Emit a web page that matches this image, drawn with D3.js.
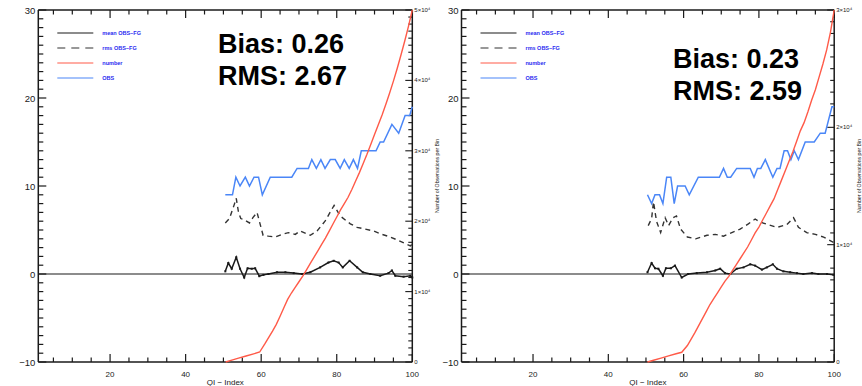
<!DOCTYPE html>
<html><head><meta charset="utf-8">
<script src="https://cdn.jsdelivr.net/npm/d3@7"></script>
<style>body{margin:0;background:#fff}</style>
</head><body><svg id="c" width="862" height="386"></svg>
<script>
// ---------- data ----------
const xTicks = [20, 40, 60, 80, 100];
const yTicks = [-10, 0, 10, 20, 30];
const legendLabels = ["mean OBS\u2212FG", "rms OBS\u2212FG", "number", "OBS"];
const xLabel = "QI  \u2212  Index";
const rightAxisTitle = "Number of Observations per Bin";

// left panel
const statsL = ["Bias: 0.26", "RMS: 2.67"];
const countTicksL = [0, 10000, 20000, 30000, 40000, 50000];
const countLabelsL = ["0", "1\u00d710\u2074", "2\u00d710\u2074", "3\u00d710\u2074", "4\u00d710\u2074", "5\u00d710\u2074"];
const obsL_x = [50.5,52.4,53.3,54.4,55.8,56.9,58.1,59.3,60.3,62.4,68.1,69.5,72.5,73.4,74.6,75.8,76.9,78.3,79.6,80.9,82.0,83.3,84.4,85.5,86.5,90.4,91.5,92.4,94.6,96.4,98.1,99.3,100];
const obsL_y = [9,9,11,10,11,10,11,11,9,11,11,12,12,13,12,13,12,13,13,12,13,12,13,12,14,14,15,15,17,16,18,18,19];
const rmsL_x = [50.5,51.6,52.8,53.4,54.0,54.6,55.3,56.9,57.8,58.9,60.5,61.9,63.7,65.5,67.2,69.0,70.3,73.0,74.8,76.9,79.3,80.9,83.6,85.4,87.5,89.7,92.0,94.2,96.4,99.5,100];
const rmsL_y = [5.8,6.3,7.8,8.6,7.0,6.3,6.2,5.8,6.4,7.0,4.4,4.3,4.2,4.5,4.7,4.5,4.9,4.4,4.9,6.0,7.8,6.6,5.7,5.3,5.1,4.9,4.5,4.2,3.8,3.2,3.4];
const meanL_x = [50.5,51.3,52.2,53.4,54.4,55.5,56.4,57.5,58.4,59.5,60.6,61.9,64.2,66.4,68.6,70.8,73.0,75.6,77.8,79.2,80.5,81.6,83.4,85.4,86.9,88.9,91.5,93.7,94.6,95.5,97.7,99.5,100];
const meanL_y = [0.3,1.25,0.6,1.9,0.6,-0.4,0.65,0.6,0.65,-0.25,-0.1,0,0.2,0.2,0.1,0,0.2,0.75,1.3,1.5,1.3,0.75,1.5,0.75,0.2,0,-0.2,0.1,0.4,-0.2,-0.3,-0.2,-0.4];
const numL_x = [50.6,52,54,56,58,59.6,61,62,63,64,65,66,67,68,69,70,71,72,73,74,75,76,77,78,79,80,81,82,83,84,85,86,87,88,89,90,91,92,93,94,95,96,97,98,99,100];
const numL_y = [0,230,540,850,1160,1420,2600,3500,4400,5350,6500,7700,8900,9800,10600,11400,12200,13100,14000,14900,15800,16700,17600,18600,19600,20600,21600,22500,23400,24500,25700,26900,28200,29500,30900,32300,33700,35100,36600,38200,39900,41700,43600,45600,47700,50000];

// right panel
const statsR = ["Bias: 0.23", "RMS: 2.59"];
const countTicksR = [0, 10000, 20000, 30000];
const countLabelsR = ["0", "1\u00d710\u2074", "2\u00d710\u2074", "3\u00d710\u2074"];
const obsR_x = [50.4,51.5,52.4,53.6,54.5,55.5,56.6,57.5,58.4,60.4,61.5,63.9,69.5,70.6,71.6,72.5,74.1,77.7,78.7,79.6,80.5,81.7,83.7,84.8,85.6,86.7,87.6,88.5,89.4,90.5,92.3,94.7,96.3,97.6,98.2,99.4,100];
const obsR_y = [9,8,9,9,8,11,11,8,10,10,9,11,11,12,11,11,12,12,11,12,12,13,11,12,12,14,14,13,14,13,15,15,16,16,17,19,19];
const rmsR_x = [50.6,51.5,52.0,52.8,53.9,55.1,56.0,57.2,58.1,59.2,61.0,63.2,66.2,68.4,70.6,72.8,75.0,77.2,79.0,80.3,82.5,84.8,87.4,89.2,90.5,92.7,95.0,97.2,99.8];
const rmsR_y = [5.5,6.3,8.2,6.0,4.7,6.4,5.5,6.4,6.6,5.1,4.2,4.0,4.4,4.5,4.3,4.7,5.1,5.7,6.25,5.9,5.6,5.3,5.6,6.4,5.3,4.7,4.5,4.2,3.6];
const meanR_x = [50.4,51.5,52.4,53.3,54.5,55.3,56.6,57.7,59.5,61.2,63.5,66.2,68.4,69.7,71.0,72.4,74.1,75.9,77.7,79.0,80.8,82.1,83.7,84.8,86.5,88.3,90.1,91.8,94.1,95.8,98.1,99.8];
const meanR_y = [0.2,1.25,0.65,0.6,-0.2,0.65,0.65,0.95,-0.4,0,0.1,0.2,0.4,0.6,0.1,0,0.6,0.75,1.1,0.95,0.5,0.75,1.1,0.6,0.3,0.2,0.1,0,0.1,0,0,-0.1];
const numR_x = [50.4,52,54,56,58,59.5,61,62,63,64,65,66,67,68,69,70,71,72,73,74,75,76,77,78,79,80,81,82,83,84,85,86,87,88,89,90,91,92,93,94,95,96,97,98,99,100];
const numR_y = [0,150,330,520,700,830,1400,1950,2500,3100,3700,4300,4900,5400,5900,6400,6900,7300,7800,8300,8800,9300,9800,10400,11000,11500,12100,12700,13300,13900,14700,15500,16300,17100,17900,18800,19700,20400,21300,22300,23200,24300,25400,26600,28100,30000];

// ---------- drawing ----------
const svg = d3.select("#c");
const BLUE = "#4a86f7", RED = "#ff5a48", INK = "#1a1a1a";

function panel(o) {
  const g = svg.append("g");
  const x = d3.scaleLinear().domain([1, 100]).range([o.left, o.right]);
  const y = d3.scaleLinear().domain([-10, 30]).range([362, 10]);
  const yc = d3.scaleLinear().domain([0, o.cmax]).range([362, 10]);
  const top = 10, bot = 362;

  // frame lines
  g.append("line").attr("x1", o.left).attr("x2", o.right).attr("y1", bot).attr("y2", bot).attr("stroke", INK).attr("stroke-width", 1.5);
  g.append("line").attr("x1", o.left).attr("x2", o.right).attr("y1", top).attr("y2", top).attr("stroke", INK).attr("stroke-width", 1.5);
  g.append("line").attr("x1", o.left).attr("x2", o.left).attr("y1", top).attr("y2", bot).attr("stroke", INK).attr("stroke-width", 1.5);
  g.append("line").attr("x1", o.right).attr("x2", o.right).attr("y1", top).attr("y2", bot).attr("stroke", INK).attr("stroke-width", 1.5);

  // x ticks (bottom & top)
  const xMinor = d3.range(5, 101, 5);
  xMinor.forEach(v => {
    const L = (v % 20 === 0) ? 8 : 4.5;
    g.append("line").attr("x1", x(v)).attr("x2", x(v)).attr("y1", bot).attr("y2", bot - L).attr("stroke", INK).attr("stroke-width", 1.2);
    g.append("line").attr("x1", x(v)).attr("x2", x(v)).attr("y1", top).attr("y2", top + L).attr("stroke", INK).attr("stroke-width", 1.2);
  });
  g.selectAll(".xl").data(xTicks).enter().append("text")
    .attr("x", d => x(d)).attr("y", 377).attr("text-anchor", "middle")
    .attr("font-family", "Liberation Sans, Arial, sans-serif").attr("font-size", 8).attr("fill", INK).text(d => d);
  g.append("text").attr("x", (o.left + o.right) / 2).attr("y", 385).attr("text-anchor", "middle")
    .attr("font-family", "Liberation Sans, Arial, sans-serif").attr("font-size", 8).attr("fill", INK).text(xLabel);

  // left y ticks
  d3.range(-10, 31, 1).forEach(v => {
    const L = (v % 10 === 0) ? 8 : 5;
    g.append("line").attr("x1", o.left).attr("x2", o.left + L).attr("y1", y(v)).attr("y2", y(v)).attr("stroke", INK).attr("stroke-width", 1.2);
  });
  g.selectAll(".yl").data(yTicks).enter().append("text")
    .attr("x", o.left - 3).attr("y", d => y(d) + 3.5).attr("text-anchor", "end")
    .attr("font-family", "Liberation Sans, Arial, sans-serif").attr("font-size", 9.5).attr("fill", INK)
    .text(d => d < 0 ? "\u2212" + Math.abs(d) : d);

  // right count axis
  d3.range(0, o.cmax + 1, 1000).forEach(v => {
    const L = (v % 10000 === 0) ? 7 : 4;
    g.append("line").attr("x1", o.right).attr("x2", o.right - L).attr("y1", yc(v)).attr("y2", yc(v)).attr("stroke", INK).attr("stroke-width", 1.1);
  });
  g.selectAll(".cl").data(o.cticks).enter().append("text")
    .attr("x", o.right + 2).attr("y", d => yc(d) + 2).attr("text-anchor", "start")
    .attr("font-family", "Liberation Sans, Arial, sans-serif").attr("font-size", 6).attr("fill", INK)
    .text((d, i) => o.clabels[i]);
  g.append("text").attr("transform", `translate(${o.right + 27},176) rotate(-90)`).attr("text-anchor", "middle")
    .attr("font-family", "Liberation Sans, Arial, sans-serif").attr("font-size", 5.2).attr("fill", INK).text(rightAxisTitle);

  // zero line
  g.append("line").attr("x1", o.left).attr("x2", o.right).attr("y1", y(0)).attr("y2", y(0)).attr("stroke", INK).attr("stroke-width", 1.2);

  const line = d3.line();
  const pts = (xs, ys, sy) => xs.map((v, i) => [x(v), sy(ys[i])]);

  g.append("path").attr("d", line(pts(o.obsx, o.obsy, y))).attr("fill", "none").attr("stroke", BLUE).attr("stroke-width", 1.5);
  g.append("path").attr("d", line(pts(o.rmsx, o.rmsy, y))).attr("fill", "none").attr("stroke", "#333").attr("stroke-width", 1.4).attr("stroke-dasharray", "5,4");
  g.append("path").attr("d", line(pts(o.meanx, o.meany, y))).attr("fill", "none").attr("stroke", INK).attr("stroke-width", 1.5);
  g.selectAll(".md").data(pts(o.meanx, o.meany, y)).enter().append("rect")
    .attr("x", d => d[0] - 1).attr("y", d => d[1] - 1).attr("width", 2).attr("height", 2).attr("fill", INK);
  g.append("path").attr("d", line(pts(o.numx, o.numy, yc))).attr("fill", "none").attr("stroke", RED).attr("stroke-width", 1.4);

  // legend
  const styles = [{c: INK, d: null}, {c: "#333", d: "8,6"}, {c: RED, d: null}, {c: BLUE, d: null}];
  legendLabels.forEach((t, i) => {
    const ly = 33 + i * 15;
    g.append("line").attr("x1", o.left + 19).attr("x2", o.left + 55).attr("y1", ly).attr("y2", ly)
      .attr("stroke", styles[i].c).attr("stroke-width", 1.2).attr("stroke-dasharray", styles[i].d);
    g.append("text").attr("x", o.left + 64).attr("y", ly + 2).attr("font-family", "Liberation Sans, Arial, sans-serif")
      .attr("font-size", 5.5).attr("font-weight", "bold").attr("fill", "#2a2af0").text(t);
  });

  // stats
  o.stats.forEach((t, i) => {
    g.append("text").attr("x", o.sx).attr("y", o.sy + i * 32).attr("font-family", "Liberation Sans, Arial, sans-serif")
      .attr("font-size", 27).attr("font-weight", "bold").attr("fill", "#000").text(t);
  });
}

panel({left: 38.3, right: 412.3, cmax: 50000, cticks: countTicksL, clabels: countLabelsL,
  obsx: obsL_x, obsy: obsL_y, rmsx: rmsL_x, rmsy: rmsL_y, meanx: meanL_x, meany: meanL_y, numx: numL_x, numy: numL_y,
  stats: statsL, sx: 218, sy: 53});
panel({left: 461.5, right: 834.2, cmax: 30000, cticks: countTicksR, clabels: countLabelsR,
  obsx: obsR_x, obsy: obsR_y, rmsx: rmsR_x, rmsy: rmsR_y, meanx: meanR_x, meany: meanR_y, numx: numR_x, numy: numR_y,
  stats: statsR, sx: 673, sy: 68});
</script></body></html>
